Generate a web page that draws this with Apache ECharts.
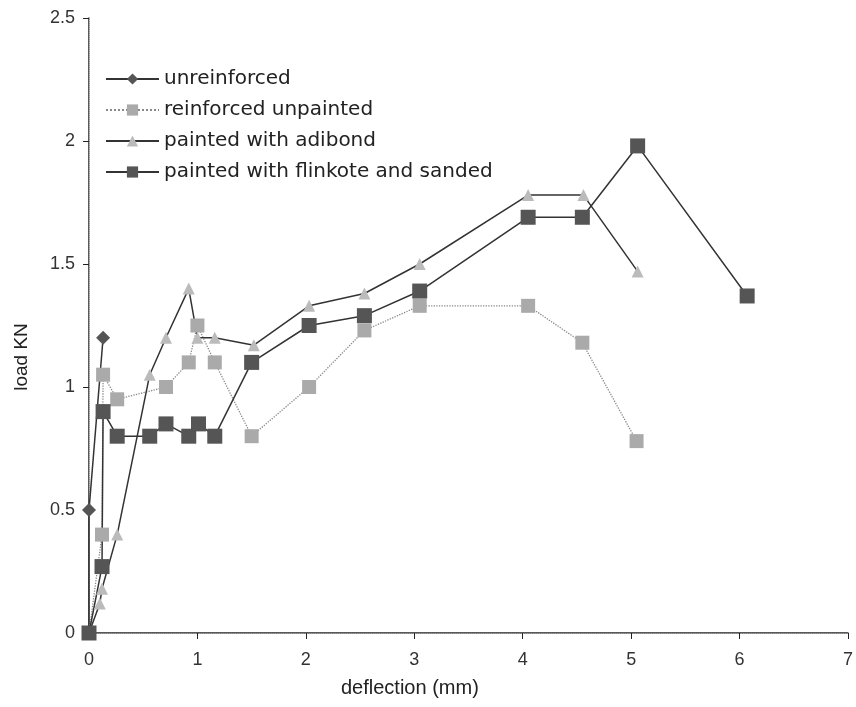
<!DOCTYPE html>
<html><head><meta charset="utf-8">
<script src="https://cdn.jsdelivr.net/npm/echarts@6/dist/echarts.min.js"></script>
<style>html,body{margin:0;padding:0;background:#fff}#c{width:856px;height:707px}</style>
</head><body><div id="c"></div>
<script>
var seriesNames = ["unreinforced","reinforced unpainted","painted with adibond","painted with flinkote and sanded"];
var unreinforced = [[0,0],[0,0.5],[0.13,1.2]];
var reinforcedUnpainted = [[0,0],[0.12,0.4],[0.13,1.05],[0.26,0.95],[0.71,1.0],[0.92,1.1],[1.0,1.25],[1.16,1.1],[1.5,0.8],[2.03,1.0],[2.54,1.23],[3.05,1.33],[4.05,1.33],[4.55,1.18],[5.05,0.78]];
var adibond = [[0,0],[0.1,0.12],[0.12,0.18],[0.26,0.4],[0.56,1.05],[0.71,1.2],[0.92,1.4],[1.0,1.2],[1.16,1.2],[1.52,1.17],[2.03,1.33],[2.54,1.38],[3.05,1.5],[4.05,1.78],[4.56,1.78],[5.06,1.47]];
var flinkote = [[0,0],[0.12,0.27],[0.13,0.9],[0.26,0.8],[0.56,0.8],[0.71,0.85],[0.92,0.8],[1.01,0.85],[1.16,0.8],[1.5,1.1],[2.03,1.25],[2.54,1.29],[3.05,1.39],[4.05,1.69],[4.55,1.69],[5.06,1.98],[6.07,1.37]];
var xTicks = [0,1,2,3,4,5,6,7];
var yTicks = [0,0.5,1,1.5,2,2.5];

var chart = echarts.init(document.getElementById('c'));
var font = 'DejaVu Sans, sans-serif';
var font2 = 'Liberation Sans, Arial, sans-serif';
chart.setOption({
  animation:false,
  backgroundColor:'#fff',
  grid:{left:89,right:8,top:18,bottom:74,containLabel:false},
  legend:{
    left:100,top:64,orient:'vertical',itemGap:11,itemWidth:53,itemHeight:14,
    textStyle:{fontFamily:font,fontSize:20,color:'#222'},
    data:seriesNames
  },
  xAxis:[{type:'value',min:xTicks[0],max:xTicks[xTicks.length-1],interval:1,
    axisLine:{lineStyle:{color:'#222',width:1.5}},
    axisTick:{show:true,inside:false,length:6,lineStyle:{color:'#222'}},
    axisLabel:{fontFamily:font2,fontSize:18,color:'#333',margin:18},
    splitLine:{show:false}},
    {type:'value',position:'top',min:xTicks[0],max:xTicks[xTicks.length-1],
    axisLine:{show:true,lineStyle:{color:'#999',width:1,type:'dotted'}},
    axisTick:{show:false},axisLabel:{show:false},splitLine:{show:false}}],
  yAxis:[{type:'value',min:yTicks[0],max:yTicks[yTicks.length-1],interval:0.5,
    axisLine:{show:true,lineStyle:{color:'#222',width:1.5}},
    axisTick:{show:true,inside:false,length:6,lineStyle:{color:'#222'}},
    axisLabel:{fontFamily:font2,fontSize:18,color:'#333',margin:14},
    splitLine:{show:false}},
    {type:'value',position:'right',min:yTicks[0],max:yTicks[yTicks.length-1],
    axisLine:{show:true,lineStyle:{color:'#bbb',width:1,type:'dotted'}},
    axisTick:{show:false},axisLabel:{show:false},splitLine:{show:false}}],
  graphic:[
    {type:'text',left:341,top:678,style:{text:'deflection (mm)',font:'20px '+font2,fill:'#222'}},
    {type:'text',x:22,y:357,rotation:Math.PI/2,style:{text:'load KN',font:'19px '+font2,fill:'#222',textAlign:'center',textVerticalAlign:'middle'}}
  ],
  series:[
    {name:seriesNames[0],type:'line',data:unreinforced,symbol:'diamond',symbolSize:14,
      itemStyle:{color:'#555'},lineStyle:{color:'#333',width:1.5}},
    {name:seriesNames[1],type:'line',data:reinforcedUnpainted,symbol:'rect',symbolSize:14,
      itemStyle:{color:'#aaa'},lineStyle:{color:'#888',width:1.3,type:'dotted'}},
    {name:seriesNames[2],type:'line',data:adibond,symbol:'triangle',symbolSize:12,
      itemStyle:{color:'#bbb'},lineStyle:{color:'#333',width:1.5}},
    {name:seriesNames[3],type:'line',data:flinkote,symbol:'rect',symbolSize:15,
      itemStyle:{color:'#555'},lineStyle:{color:'#333',width:1.5}}
  ]
});
</script></body></html>
